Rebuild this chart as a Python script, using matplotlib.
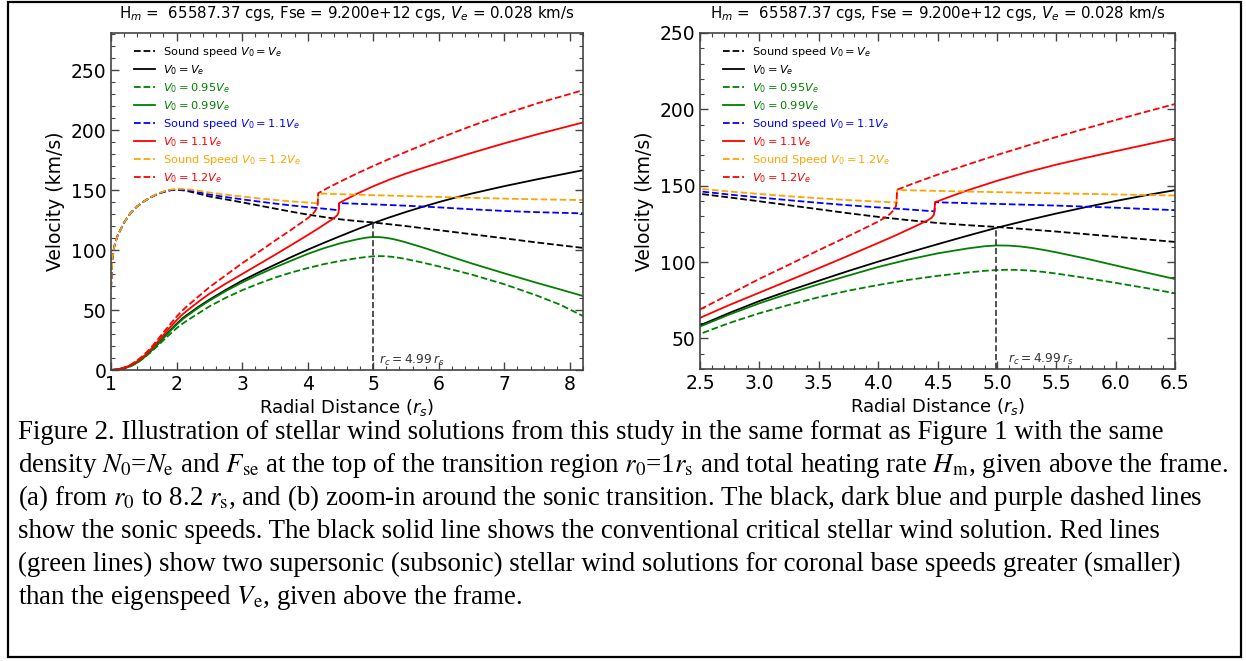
import matplotlib
matplotlib.use("Agg")
import matplotlib.pyplot as plt
from matplotlib.patches import Rectangle
from matplotlib.ticker import MultipleLocator
import matplotlib.transforms as mtransforms

# radial grid (r_s) shared by the sound speed / V0 = Ve curves
r = [1.0, 1.02, 1.05, 1.1, 1.2, 1.3, 1.4, 1.5, 1.6, 1.7, 1.8, 1.9, 2.0, 2.1, 2.2, 2.35,
     2.5, 2.75, 3.0, 3.25, 3.5, 3.75, 4.0, 4.25, 4.5, 4.75, 5.0, 5.25, 5.5, 5.75, 6.0,
     6.25, 6.5, 7.0, 7.5, 8.2]

# sound speed, V0 = Ve (km/s)
cs_e = [68, 92, 103, 112, 123, 131, 136.5, 140.5, 143.8, 146.5, 148.5, 149.8, 150.3, 149.8,
        148.8, 146.8, 144.7, 142.3, 139.8, 137.2, 134.6, 132.0, 129.6, 127.5, 125.6, 124.2,
        123.0, 121.5, 120.0, 118.3, 116.6, 114.9, 113.2, 109.8, 106.3, 101.8]
# wind speed, V0 = Ve
v_e = [0.03, 0.05, 0.1, 0.4, 1.5, 3.5, 6.5, 10.5, 15.5, 21.0, 27.0, 33.0, 38.5, 43.5, 47.5,
       53.3, 58.6, 66.8, 74.5, 81.3, 87.8, 94.2, 100.3, 106.1, 111.7, 117.2, 122.5, 127.3,
       131.8, 136.0, 140.0, 143.7, 147.1, 153.3, 159.0, 166.6]

# V0 = 0.99 Ve
r_s = [1.0, 1.1, 1.2, 1.3, 1.4, 1.5, 1.6, 1.7, 1.8, 1.9, 2.0, 2.1, 2.2, 2.35, 2.5, 2.75, 3.0,
       3.25, 3.5, 3.75, 4.0, 4.25, 4.5, 4.75, 4.9, 5.0, 5.1, 5.2, 5.3, 5.4, 5.5, 5.75, 6.0,
       6.25, 6.5, 7.0, 7.5, 7.85, 8.2]
v_099 = [0.03, 0.4, 1.4, 3.3, 6.2, 10.3, 15.2, 20.6, 26.5, 32.4, 37.8, 42.7, 46.7, 52.5,
         57.8, 65.8, 73.0, 79.5, 85.5, 91.2, 96.8, 101.6, 105.7, 108.9, 110.4, 110.9, 110.8,
         110.2, 109.2, 107.9, 106.4, 102.3, 97.8, 93.3, 88.9, 80.6, 72.6, 67.2, 61.7]
# V0 = 0.95 Ve
v_095 = [0.03, 0.4, 1.3, 3.1, 5.9, 10.0, 14.5, 19.5, 24.8, 30.0, 34.8, 39.0, 42.6, 47.8,
         53.0, 60.2, 66.5, 72.0, 77.0, 81.3, 85.0, 88.3, 91.0, 93.2, 94.3, 94.8, 95.0, 94.8,
         94.3, 93.5, 92.5, 89.6, 86.4, 83.1, 79.6, 71.5, 62.0, 54.5, 45.0]

# V0 = 1.1 Ve (supersonic, jump near 4.48 r_s)
r_11 = [1.0, 1.1, 1.2, 1.3, 1.4, 1.5, 1.6, 1.7, 1.8, 1.9, 2.0, 2.1, 2.2, 2.35, 2.5, 2.75, 3.0,
        3.25, 3.5, 3.75, 4.0, 4.15, 4.25, 4.35, 4.42, 4.45, 4.47, 4.475, 4.48, 4.6, 4.75, 5.0,
        5.25, 5.5, 5.75, 6.0, 6.25, 6.5, 7.0, 7.5, 8.2]
v_11 = [0.03, 0.5, 1.8, 4.0, 7.3, 11.5, 16.8, 22.8, 29.2, 35.5, 41.5, 46.8, 51.2, 57.6, 63.5,
        72.0, 80.0, 88.0, 96.0, 104.2, 112.5, 117.6, 121.2, 124.8, 127.5, 129.0, 131.0, 134.0,
        139.2, 142.7, 146.9, 153.2, 158.8, 163.8, 168.3, 172.6, 176.8, 181.0, 189.0, 196.5,
        206.4]
r_cs11 = [1.0, 1.02, 1.05, 1.1, 1.2, 1.3, 1.4, 1.5, 1.6, 1.7, 1.8, 1.9, 2.0, 2.1, 2.2, 2.35,
          2.5, 2.75, 3.0, 3.25, 3.5, 3.75, 4.0, 4.25, 4.475, 4.48, 4.75, 5.0, 5.5, 6.0, 6.5,
          7.0, 7.5, 8.2]
cs_11 = [68, 92, 103, 112, 123, 131, 136.5, 140.5, 143.8, 146.5, 148.5, 149.9, 150.4, 150.1,
         149.5, 148.0, 146.3, 144.2, 142.3, 140.5, 138.8, 137.2, 135.8, 134.5, 133.2, 139.2,
         138.6, 138.1, 137.0, 135.6, 134.0, 132.6, 131.6, 130.6]

# V0 = 1.2 Ve (supersonic, jump near 4.16 r_s)
r_12 = [1.0, 1.1, 1.2, 1.3, 1.4, 1.5, 1.6, 1.7, 1.8, 1.9, 2.0, 2.1, 2.2, 2.35, 2.5, 2.75, 3.0,
        3.25, 3.5, 3.75, 4.0, 4.05, 4.1, 4.13, 4.15, 4.155, 4.16, 4.3, 4.5, 4.75, 5.0, 5.25,
        5.5, 5.75, 6.0, 6.25, 6.5, 7.0, 7.5, 8.2]
v_12 = [0.03, 0.6, 2.0, 4.4, 8.0, 12.5, 18.0, 24.5, 31.3, 38.0, 44.5, 50.2, 55.0, 62.0, 69.0,
        79.0, 89.0, 98.3, 107.8, 117.0, 126.5, 128.8, 131.5, 134.0, 136.5, 139.5, 147.4,
        151.6, 157.2, 163.8, 170.1, 176.1, 181.9, 187.5, 193.0, 198.3, 203.5, 213.3, 222.3,
        233.3]
r_cs12 = [1.0, 1.02, 1.05, 1.1, 1.2, 1.3, 1.4, 1.5, 1.6, 1.7, 1.8, 1.9, 2.0, 2.1, 2.2, 2.35,
          2.5, 2.75, 3.0, 3.25, 3.5, 3.75, 4.0, 4.155, 4.16, 4.5, 5.0, 5.5, 6.0, 6.5, 7.0, 7.5,
          8.2]
cs_12 = [68, 92, 103, 112, 123, 131, 136.5, 140.5, 143.9, 146.7, 148.9, 150.4, 151.0, 151.0,
         150.5, 149.4, 148.0, 146.2, 144.6, 143.1, 141.8, 140.6, 139.6, 139.0, 147.2, 146.6,
         145.8, 145.0, 144.3, 143.6, 142.9, 142.3, 141.7]

r_c = 4.99
v_c = 123.0

title = r"H$_m$ =  65587.37 cgs, Fse = 9.200e+12 cgs, $V_e$ = 0.028 km/s"

caption = [
    "Figure 2. Illustration of stellar wind solutions from this study in the same format as Figure 1 with the same",
    r"density $N_0$=$N_\mathrm{e}$ and $F_\mathrm{se}$ at the top of the transition region $r_0$=1$r_\mathrm{s}$ and total heating rate $H_\mathrm{m}$, given above the frame.",
    r"(a) from $r_0$ to 8.2 $r_\mathrm{s}$, and (b) zoom-in around the sonic transition. The black, dark blue and purple dashed lines",
    "show the sonic speeds. The black solid line shows the conventional critical stellar wind solution. Red lines",
    "(green lines) show two supersonic (subsonic) stellar wind solutions for coronal base speeds greater (smaller)",
    r"than the eigenspeed $V_\mathrm{e}$, given above the frame.",
]

W, H = 1246, 661
fig = plt.figure(figsize=(W / 100, H / 100), dpi=100)


def draw_panel(ax, xlim, ylim, xmaj, xmin, ymaj, ymin):
    lw = 1.3
    ax.plot(r, cs_e, "--", color="black", lw=lw, label=r"Sound speed $V_0 = V_e$")
    ax.plot(r, v_e, "-", color="black", lw=lw, label=r"$V_0 = V_e$")
    ax.plot(r_s, v_095, "--", color="green", lw=lw, label=r"$V_0 = 0.95V_e$")
    ax.plot(r_s, v_099, "-", color="green", lw=lw, label=r"$V_0 = 0.99V_e$")
    ax.plot(r_cs11, cs_11, "--", color="blue", lw=lw, label=r"Sound speed $V_0 = 1.1V_e$")
    ax.plot(r_11, v_11, "-", color="red", lw=lw, label=r"$V_0 = 1.1V_e$")
    ax.plot(r_cs12, cs_12, "--", color="orange", lw=lw, label=r"Sound Speed $V_0 = 1.2V_e$")
    ax.plot(r_12, v_12, "--", color="red", lw=lw, label=r"$V_0 = 1.2V_e$")

    ax.plot([r_c, r_c], [ylim[0], v_c], "--", color="#333333", lw=1.2)
    trans = mtransforms.blended_transform_factory(ax.transData, ax.transAxes)
    ax.text(r_c + 0.1, 0.006, r"$r_c = 4.99\,r_s$", transform=trans, fontsize=8.8,
            color="#333333", va="bottom", ha="left")

    ax.set_xlim(*xlim)
    ax.set_ylim(*ylim)
    ax.xaxis.set_major_locator(MultipleLocator(xmaj))
    ax.xaxis.set_minor_locator(MultipleLocator(xmin))
    ax.yaxis.set_major_locator(MultipleLocator(ymaj))
    ax.yaxis.set_minor_locator(MultipleLocator(ymin))
    ax.tick_params(which="both", direction="in", top=True, right=True, colors="#444444",
                   labelcolor="black", labelsize=13.5)
    ax.tick_params(which="major", length=6, width=1.0)
    ax.tick_params(which="minor", length=3, width=0.8)
    for s in ax.spines.values():
        s.set_color("#444444")
        s.set_linewidth(1.2)
    ax.set_xlabel(r"Radial Distance ($r_s$)", fontsize=13, labelpad=2)
    ax.set_ylabel("Velocity (km/s)", fontsize=13.5, labelpad=4)
    ax.set_title(title, fontsize=10.8, pad=11)
    ax.legend(loc="upper left", bbox_to_anchor=(0.044, 0.971), frameon=False, fontsize=8.2,
              labelcolor="linecolor", handlelength=1.8, handletextpad=0.7,
              labelspacing=0.36, borderpad=0.2, borderaxespad=0.0)


ax1 = fig.add_axes([111 / W, 1 - 370 / H, (583 - 111) / W, (370 - 33) / H])
draw_panel(ax1, (1, 8.2), (0, 281), 1, 0.2, 50, 10)

ax2 = fig.add_axes([700 / W, 1 - 369 / H, (1175 - 700) / W, (369 - 33) / H])
draw_panel(ax2, (2.5, 6.5), (30, 250), 0.5, 0.1, 50, 10)

# caption block
for i, line in enumerate(caption):
    fig.text(18 / W, 1 - (439 + 33 * i) / H, line, fontsize=19.35, family="Liberation Serif",
             math_fontfamily="stix", va="baseline", ha="left")

# outer frame
fig.add_artist(Rectangle((8 / W, 1 - 657 / H), (1241 - 8) / W, (657 - 2) / H,
                         transform=fig.transFigure, fill=False, edgecolor="black", lw=1.6))

fig.savefig("out.png", dpi=100)
